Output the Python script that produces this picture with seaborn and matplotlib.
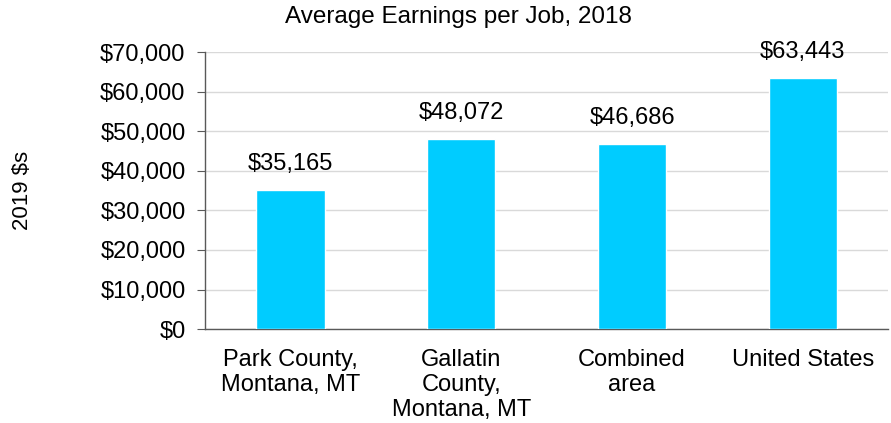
import matplotlib
matplotlib.use("Agg")
import matplotlib.pyplot as plt
import seaborn as sns
import pandas as pd
from matplotlib.ticker import FuncFormatter, FixedLocator

# data
regions = ["Park County,\nMontana, MT", "Gallatin\nCounty,\nMontana, MT", "Combined\narea", "United States"]
earnings = [35165, 48072, 46686, 63443]

df = pd.DataFrame({"region": regions, "earnings": earnings})

sns.set_style("white")
plt.rcParams["font.family"] = ["Liberation Sans", "DejaVu Sans"]
plt.rcParams["text.color"] = "black"
plt.rcParams["xtick.color"] = "black"
plt.rcParams["ytick.color"] = "black"
plt.rcParams["axes.labelcolor"] = "black"

fig = plt.figure(figsize=(8.91, 4.23), dpi=100)
ax = fig.add_axes([0.230, 0.222, 0.767, 0.655])

sns.barplot(data=df, x="region", y="earnings", color="#00CCFF", width=0.4,
            saturation=1, ax=ax, zorder=3)

# value labels above bars
for i, v in enumerate(earnings):
    ax.text(i, v + 3800, f"${v:,}", ha="center", va="bottom", fontsize=17)

ax.set_ylim(0, 70000)
ax.set_yticks(range(0, 70001, 10000))
ax.yaxis.set_major_formatter(FuncFormatter(lambda x, p: f"${int(x):,}"))
ax.set_xlim(-0.5, len(regions) - 0.5)

ax.grid(axis="y", color="#d9d9d9", linewidth=1, zorder=0)
ax.set_axisbelow(True)

for s in ["top", "right"]:
    ax.spines[s].set_visible(False)
for s in ["left", "bottom"]:
    ax.spines[s].set_color("#595959")
    ax.spines[s].set_linewidth(1)

# ticks between categories on the x axis
ax.xaxis.set_minor_locator(FixedLocator([i - 0.5 for i in range(len(regions) + 1)]))
ax.tick_params(axis="x", which="major", length=0, labelsize=17, pad=14)
ax.tick_params(axis="x", which="minor", length=6, color="#595959", direction="out")
ax.tick_params(axis="y", length=6, color="#595959", direction="out", labelsize=17,
               left=True, pad=8)

ax.set_xlabel("")
ax.set_ylabel("")
fig.text(22 / 891, 1 - 190 / 423, "2019 $s", rotation=90, fontsize=16,
         ha="center", va="center")
fig.suptitle("Average Earnings per Job, 2018", fontsize=17.5, x=0.515, y=0.985)

fig.savefig("out.png", dpi=100)
